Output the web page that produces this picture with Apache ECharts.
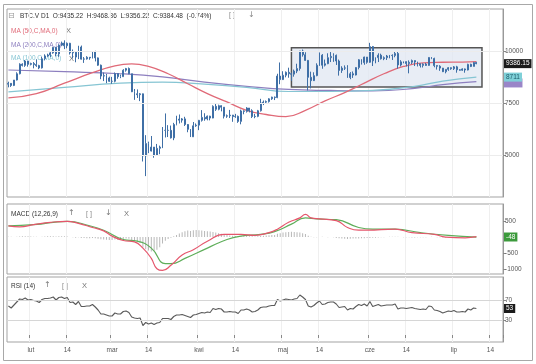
<!DOCTYPE html>
<html><head><meta charset="utf-8">
<script src="https://cdn.jsdelivr.net/npm/echarts@6/dist/echarts.min.js"></script>
<style>html,body{margin:0;padding:0;background:#fff}#c{width:536px;height:364px}</style>
</head><body><div id="c"></div>
<script>
// ---------- data (daily, 2020-01-24 .. 2020-07-09) ----------
const startDate = [2020, 0, 24];
const dayCount = 177;               // axis runs to 2020-07-18
const firstOpen = 8400;
const closes = [8440,8340,8600,8900,9360,9300,9510,9350,9390,9340,9290,9180,9620,9750,9800,9900,10170,9850,10270,10370,10240,10360,9900,9930,9700,10180,9600,9610,9690,9660,9960,9660,9310,8790,8810,8700,8540,8540,8910,8760,8760,9070,9150,8900,8040,7940,7900,7940,4970,5560,5200,5390,5010,5330,5390,6190,6190,6190,5830,6470,6730,6680,6740,6470,6240,5880,6410,6440,6670,6810,6740,6870,6780,7340,7200,7370,7300,6870,6890,6920,6850,6860,6620,7120,7100,7260,7130,6850,6860,7130,7500,7540,7570,7700,7780,7760,8790,8620,8830,8970,8900,8880,9030,9150,9990,9810,9540,8730,8570,8810,9310,9790,9310,9380,9670,9730,9780,9510,9060,9170,9180,8720,8900,8840,9200,9570,9430,9700,9450,10200,9520,9670,9790,9620,9670,9750,9780,9770,9870,9320,9470,9480,9390,9450,9530,9460,9380,9300,9360,9300,9680,9630,9290,9260,9170,9000,9110,9190,9140,9230,9090,9070,9130,9080,9350,9250,9435.22,9384.48];
const highs = [8520,8450,8600,8970,9400,9400,9560,9520,9430,9460,9590,9330,9720,9830,9860,9950,10170,10150,10300,10440,10500,10400,10380,10060,9950,10240,10250,9700,9740,9700,9990,10000,9680,9340,8960,8890,8760,8750,8960,8910,8860,9120,9180,9200,8900,8170,8150,7980,7950,5960,5650,5920,5390,5540,5460,6350,7000,6440,6420,6550,6890,6950,6780,6840,6490,6250,6590,6520,6690,7160,7010,6900,6890,7390,7450,7420,7390,7300,6950,7170,6930,6980,6900,7180,7150,7300,7250,7200,6980,7170,7700,7620,7620,7730,7800,7810,8900,9440,9020,9010,9190,8960,9100,9380,9990,10060,9930,9560,9000,8970,9400,9920,9840,9580,9880,9940,9880,9820,9580,9260,9300,9310,8980,9010,9210,9600,9600,9720,9700,10380,10230,9680,9880,9860,9730,9800,9800,9830,9950,9950,9550,9490,9490,9540,9580,9540,9480,9390,9400,9420,9690,9700,9670,9300,9310,9180,9110,9220,9200,9270,9280,9120,9160,9150,9380,9380,9470,9468.36];
const lows = [8250,8270,8310,8580,8870,9250,9230,9240,9300,9160,9230,9120,9150,9540,9710,9700,9860,9730,9710,10220,10080,10120,9820,9630,9450,9600,9580,9420,9580,9570,9630,9490,9280,8640,8550,8450,8510,8420,8490,8660,8690,8760,9000,8880,8020,7650,7740,7590,4700,4000,5100,5180,4880,4990,5050,5340,5850,5870,5800,5720,6430,6520,6560,6400,6100,5870,5880,6360,6200,6610,6650,6670,6670,6770,7120,7150,7100,6760,6790,6780,6600,6790,6550,6480,6960,7040,7050,6780,6770,6820,7090,7400,7490,7520,7650,7640,7730,8400,8600,8730,8710,8560,8760,8930,9050,9720,9520,8100,8200,8600,8780,9270,9140,9250,9360,9460,9470,9320,8810,8940,9080,8700,8640,8700,8820,9110,9340,9330,9380,9420,9270,9400,9460,9580,9550,9560,9640,9560,9690,9140,9250,9400,9250,8920,9360,9270,9250,9200,9200,9280,9280,9600,9210,9100,9040,8980,8920,9040,9090,9080,8950,9050,9040,8950,9060,9220,9250,9356.22];

// moving averages read at sparse points [dayIndex, value]
const ma50Pts  = [[0,7750],[10,7950],[20,8450],[30,8950],[38,9280],[44,9370],[50,9250],[57,8900],[64,8420],[71,7950],[78,7550],[85,7150],[92,6950],[99,6850],[106,7150],[113,7600],[120,8000],[127,8450],[134,8900],[141,9250],[148,9420],[155,9450],[162,9460],[167,9480]];
const ma200Pts = [[0,9080],[20,9000],[40,8900],[55,8750],[70,8500],[85,8300],[100,8150],[115,8100],[130,8080],[145,8200],[155,8380],[167,8520]];
const ma100Pts = [[0,8030],[20,8250],[40,8450],[55,8500],[70,8400],[85,8250],[100,8050],[115,8050],[130,8100],[145,8300],[155,8550],[167,8740]];

// MACD (12,26,9) read at sparse points
const macdPts   = [[0,350],[4,319],[9,384],[15,459],[21,490],[25,425],[30,297],[34,191],[37,28],[41,-109],[45,-153],[48,-347],[51,-669],[53,-991],[55,-1044],[58,-884],[62,-562],[66,-400],[71,-131],[77,81],[83,81],[88,50],[93,137],[96,244],[100,459],[104,597],[106,706],[108,597],[111,565],[117,512],[121,297],[125,212],[128,212],[138,244],[144,137],[152,81],[156,-3],[163,-25],[167,10]];
const signalPts = [[0,350],[9,384],[21,490],[29,350],[34,212],[41,-78],[46,-131],[51,-347],[56,-831],[58,-831],[63,-669],[71,-347],[78,-78],[83,28],[90,81],[95,169],[101,403],[106,597],[110,565],[117,540],[125,297],[130,244],[138,244],[147,137],[157,50],[167,-5]];
const macdHist = [10,5,0,5,15,20,25,20,15,10, 5,0,10,15,20,20,25,15,20,25,20, 15,0,-10,-20,-10,-30,-35,-40,-40,-30,-40,-55,-70, -80,-85,-90,-95,-80,-85,-80,-60,-50,-55, -100,-130,-160,-180,-330,-380,-420,-450,-440,-400,-320,-200,-120, -60,-20,20,60, 110,150,180,200,190,210,220,210,200,190,180,170,160,140,120,100,80, 60,50,40,30,20,20,25,30,25,20,15,20,30,40,50,55,60,65, 100,120,140,150,160,165,160,150,140,120,90,40, 10,-5,-10,0,5,0,-5,0,-10, -30,-40,-50,-55,-60,-55,-50,-50,-45,-40,-40,-35,-30,-25,-20, -15,-10,-5,0,5,10,10,5,0,-5,-10,-10,-15,-15,-10,-10,-5,-5,0,5,0,-5,-10,-10,-15,-15,-10,-10,-5,-5,0,0,5,5,10,5];

// RSI (14)
const rsi = [58,54,60,66,72,71,74,70,71,69,68,65,71,73,73,74,76,70,75,76,73,75,65,66,61,67,57,57,58,58,61,56,50,42,42,40,38,38,44,42,42,47,48,45,36,34,33,34,19,25,22,24,21,24,25,33,33,33,31,37,40,40,41,39,37,35,40,41,43,45,44,46,45,53,51,53,52,46,46,47,46,46,43,50,50,52,50,46,47,50,55,56,56,58,59,59,71,68,70,72,71,70,72,73,80,76,71,58,56,59,64,68,61,62,65,66,66,62,55,56,57,50,53,52,57,61,59,62,58,67,57,59,61,58,59,60,60,60,62,52,54,54,53,54,55,53,52,51,52,51,58,57,50,49,47,44,46,48,47,49,46,46,47,46,52,50,54,53];

// consolidation box [startDay, endDay, low, high]
const boxRange = ['2020-05-04', '2020-07-11', 8270, 10150];
const priceTicks = [5000, 7500, 10000];
const macdTicks = [500, -500, -1000];
const rsiTicks = [70, 30];
const rsiLevels = [70, 30];
const monthAbbr = ['sty','lut','mar','kwi','maj','cze','lip','sie','wrz','paź','lis','gru'];
const lastLabels = { price: '9386.15', ma100: '8711', ma200: '8526', macd: '-48', rsi: '53' };

// ---------- build ----------
const cats = [];
const t0 = Date.UTC(startDate[0], startDate[1], startDate[2]);
for (let i = 0; i < dayCount; i++) cats.push(new Date(t0 + i * 86400000).toISOString().slice(0, 10));
const candles = closes.map((c, i) => [i === 0 ? firstOpen : closes[i - 1], c, lows[i], highs[i]]);
function sparse(pts) { const a = new Array(dayCount).fill(null); pts.forEach(p => a[p[0]] = p[1]); return a; }
const isTick = (idx, v) => { const d = String(v).slice(8, 10); return d === '01' || d === '14'; };
const FONT = 'Liberation Sans';
const gridL = 7, gridR = 33;
const grids = [
  { left: gridL, right: gridR, top: 9, height: 188 },
  { left: gridL, right: gridR, top: 204, height: 70 },
  { left: gridL, right: gridR, top: 277, height: 65 }
].map(g => Object.assign(g, { show: true, borderColor: '#a3a3a3', borderWidth: 1, backgroundColor: 'transparent' }));

function xAx(i, showLabel) {
  return {
    type: 'category', gridIndex: i, data: cats, boundaryGap: true,
    axisLine: { show: false },
    axisTick: { show: showLabel, interval: isTick, length: 3, inside: false, lineStyle: { color: '#888' } },
    axisLabel: { show: showLabel, interval: isTick, fontSize: 6.5, color: '#555', fontFamily: FONT, margin: 5,
      formatter: v => { const d = v.slice(8, 10); return d === '14' ? '14' : monthAbbr[+v.slice(5, 7) - 1]; } },
    splitLine: { show: true, interval: isTick, lineStyle: { color: '#efefef', width: 1 } }
  };
}
function yAx(i, min, max, ticks) {
  return {
    type: 'value', gridIndex: i, position: 'right', min, max, scale: true,
    axisLine: { show: true, lineStyle: { color: '#999' } },
    axisTick: { show: true, length: 3, customValues: ticks, lineStyle: { color: '#888' } },
    axisLabel: { show: true, customValues: ticks, fontSize: 6.5, color: '#555', fontFamily: FONT, margin: 2,
      formatter: v => String(v) },
    splitLine: { show: false }
  };
}
function boxLabel(text, bg, fg) {
  return { show: true, position: 'end', distance: 1, formatter: text, backgroundColor: bg, color: fg,
    fontSize: 6.5, fontFamily: FONT, padding: [1, 2, 1, 2], opacity: 1 };
}
function lastMark(val, text, bg, fg) {
  return { silent: true, symbol: 'none', lineStyle: { width: 0, color: 'rgba(0,0,0,0)' }, label: boxLabel(text, bg, fg), data: [{ yAxis: val }] };
}
const nulls = new Array(dayCount).fill(null);
const lastIdx = closes.length - 1;

const option = {
  animation: false,
  backgroundColor: '#fff',
  grid: grids,
  xAxis: [xAx(0, false), xAx(1, false), xAx(2, true)],
  yAxis: [yAx(0, 3000, 12000, priceTicks), yAx(1, -1156, 1031, macdTicks), yAx(2, -14, 116, rsiTicks)],
  series: [
    { type: 'line', xAxisIndex: 0, yAxisIndex: 0, data: nulls, z: 1, silent: true,
      markLine: { silent: true, symbol: 'none', label: { show: false }, lineStyle: { color: '#ececec', type: 'solid', width: 1 },
        data: priceTicks.map(v => ({ yAxis: v })) },
      markArea: { silent: true, itemStyle: { color: 'rgba(224,231,242,0.75)', borderColor: '#555', borderWidth: 1.5 },
        data: [[{ xAxis: boxRange[0], yAxis: boxRange[2] }, { xAxis: boxRange[1], yAxis: boxRange[3] }]] } },
    { type: 'line', name: 'MA200', xAxisIndex: 0, yAxisIndex: 0, data: sparse(ma200Pts), connectNulls: true, smooth: true,
      showSymbol: false, lineStyle: { color: '#8d7fbf', width: 1.2 }, z: 2, markLine: lastMark(ma200Pts[ma200Pts.length - 1][1] - 60, lastLabels.ma200, '#9a86c8', '#9a86c8') },
    { type: 'line', name: 'MA100', xAxisIndex: 0, yAxisIndex: 0, data: sparse(ma100Pts), connectNulls: true, smooth: true,
      showSymbol: false, lineStyle: { color: '#86c5d3', width: 1.2 }, z: 2, markLine: lastMark(ma100Pts[ma100Pts.length - 1][1], lastLabels.ma100, '#7fd0d8', '#1d5d6a') },
    { type: 'line', name: 'MA50', xAxisIndex: 0, yAxisIndex: 0, data: sparse(ma50Pts), connectNulls: true, smooth: true,
      showSymbol: false, lineStyle: { color: '#e06a78', width: 1.3 }, z: 2 },
    { type: 'candlestick', xAxisIndex: 0, yAxisIndex: 0, data: candles, barMaxWidth: 2, z: 4,
      itemStyle: { color: '#a9c4e4', color0: '#3f6fa6', borderColor: '#3f6fa6', borderColor0: '#3f6fa6', borderWidth: 1 },
      markLine: lastMark(closes[lastIdx], lastLabels.price, '#1a1a1a', '#fff') },
    { type: 'bar', xAxisIndex: 1, yAxisIndex: 1, data: macdHist, barWidth: 1, itemStyle: { color: '#b8b8b8' }, z: 1,
      markLine: lastMark(0, lastLabels.macd, '#3c9a3c', '#fff') },
    { type: 'line', xAxisIndex: 1, yAxisIndex: 1, data: sparse(signalPts), connectNulls: true, smooth: true,
      showSymbol: false, lineStyle: { color: '#5fae5a', width: 1.2 }, z: 2 },
    { type: 'line', xAxisIndex: 1, yAxisIndex: 1, data: sparse(macdPts), connectNulls: true, smooth: true,
      showSymbol: false, lineStyle: { color: '#e5566c', width: 1.2 }, z: 3 },
    { type: 'line', xAxisIndex: 2, yAxisIndex: 2, data: rsi, showSymbol: false, lineStyle: { color: '#5a5a5a', width: 1.1 }, z: 3,
      markLine: { silent: true, symbol: 'none', label: { show: false }, lineStyle: { color: '#d6d6d6', type: 'solid', width: 1 },
        data: rsiLevels.map(v => ({ yAxis: v })) } },
    { type: 'line', xAxisIndex: 2, yAxisIndex: 2, data: nulls, markLine: lastMark(rsi[lastIdx], lastLabels.rsi, '#1a1a1a', '#fff') }
  ],
  graphic: [
    { type: 'rect', shape: { x: 3.5, y: 4.5, width: 529, height: 356 }, style: { fill: 'none', stroke: '#a8a8a8', lineWidth: 1 }, silent: true, z: -1 },
    { type: 'text', left: 8, top: 12, style: { text: '⊟', fontSize: 8, fill: '#999', fontFamily: 'DejaVu Sans' } },
    { type: 'text', left: 20, top: 13, style: { text: 'BTC.V D1  O:9435.22  H:9468.36  L:9356.22  C:9384.48  (-0.74%)', fontSize: 6.5, fill: '#333', fontFamily: FONT } },
    { type: 'text', left: 229, top: 12, style: { text: '[ ]', fontSize: 7, fill: '#888', fontFamily: FONT } },
    { type: 'text', left: 248, top: 11, style: { text: '↓', fontSize: 8, fill: '#888', fontFamily: 'DejaVu Sans' } },
    { type: 'text', left: 11, top: 28, style: { text: 'MA (50,C,MA,0)', fontSize: 6.5, fill: '#e06a78', fontFamily: FONT } },
    { type: 'text', left: 66, top: 27, style: { text: 'X', fontSize: 7.5, fill: '#777', fontFamily: FONT } },
    { type: 'text', left: 11, top: 42, style: { text: 'MA (200,C,MA,0)', fontSize: 6.5, fill: '#8d7fbf', fontFamily: FONT } },
    { type: 'text', left: 11, top: 55, style: { text: 'MA (100,C,MA,0)', fontSize: 6.5, fill: '#86c5d3', fontFamily: FONT } },
    { type: 'text', left: 69, top: 55, style: { text: 'X', fontSize: 7.5, fill: '#777', fontFamily: FONT } },
    { type: 'text', left: 11, top: 211, style: { text: 'MACD (12,26,9)', fontSize: 6.5, fill: '#333', fontFamily: FONT } },
    { type: 'text', left: 68, top: 209, style: { text: '↑', fontSize: 8, fill: '#777', fontFamily: 'DejaVu Sans' } },
    { type: 'text', left: 86, top: 211, style: { text: '[ ]', fontSize: 7, fill: '#888', fontFamily: FONT } },
    { type: 'text', left: 105, top: 209, style: { text: '↓', fontSize: 8, fill: '#777', fontFamily: 'DejaVu Sans' } },
    { type: 'text', left: 124, top: 210, style: { text: 'X', fontSize: 7.5, fill: '#777', fontFamily: FONT } },
    { type: 'text', left: 11, top: 283, style: { text: 'RSI (14)', fontSize: 6.5, fill: '#333', fontFamily: FONT } },
    { type: 'text', left: 44, top: 281, style: { text: '↑', fontSize: 8, fill: '#777', fontFamily: 'DejaVu Sans' } },
    { type: 'text', left: 62, top: 283, style: { text: '[ ]', fontSize: 7, fill: '#888', fontFamily: FONT } },
    { type: 'text', left: 82, top: 282, style: { text: 'X', fontSize: 7.5, fill: '#777', fontFamily: FONT } }
  ]
};
const chart = echarts.init(document.getElementById('c'));
chart.setOption(option);
</script>
</body></html>
